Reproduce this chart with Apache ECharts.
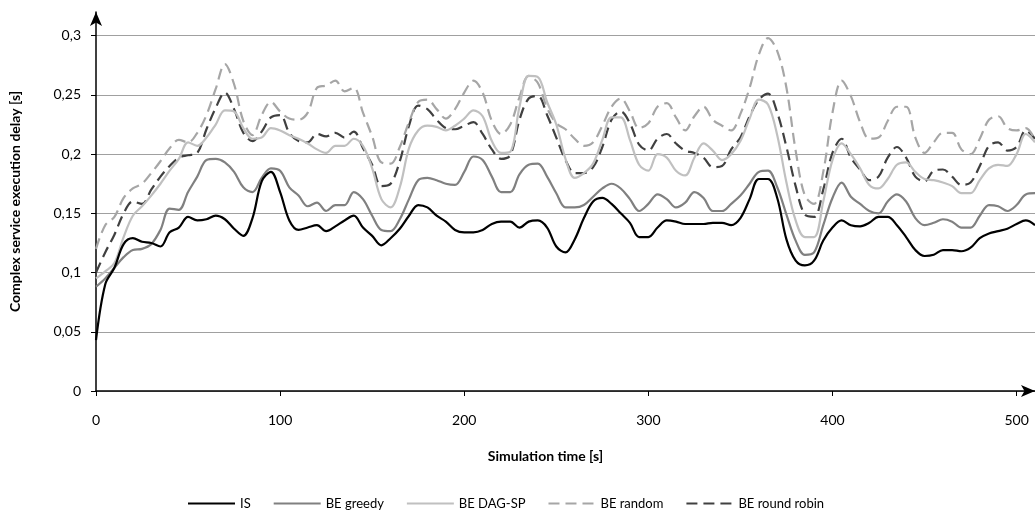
<!DOCTYPE html>
<html>
<head>
<meta charset="utf-8">
<script src="https://cdn.jsdelivr.net/npm/echarts@6.0.0/dist/echarts.min.js"></script>
<style>
  html, body { margin: 0; padding: 0; background: #fff; }
  #chart { width: 1035px; height: 512px; }
</style>
</head>
<body>
<div id="chart"></div>
<script>
// simulation time samples [s], every 5 s
var times = [];
for (var t = 0; t <= 510; t += 5) times.push(t);

var isDelay = [
	0.043, 0.09, 0.104, 0.124, 0.129, 0.126, 0.125, 0.122, 0.134, 0.138,
	0.147, 0.144, 0.145, 0.148, 0.145, 0.137, 0.131, 0.146, 0.177, 0.185,
	0.168, 0.144, 0.136, 0.138, 0.14, 0.135, 0.139, 0.144, 0.148, 0.138,
	0.131, 0.123, 0.129, 0.137, 0.148, 0.157, 0.155, 0.148, 0.143, 0.136,
	0.134, 0.134, 0.136, 0.141, 0.143, 0.143, 0.138, 0.143, 0.144, 0.138,
	0.122, 0.117, 0.128, 0.146, 0.16, 0.163, 0.158, 0.15, 0.142, 0.13,
	0.13, 0.138, 0.144, 0.143, 0.141, 0.141, 0.141, 0.142, 0.142, 0.14,
	0.146, 0.162, 0.179, 0.179, 0.163, 0.128, 0.11, 0.106, 0.11, 0.127,
	0.138, 0.144, 0.14, 0.139, 0.142, 0.147, 0.147, 0.14, 0.13, 0.119,
	0.114, 0.115, 0.119, 0.119, 0.118, 0.121, 0.129, 0.133, 0.135, 0.137,
	0.141, 0.144, 0.14
];
var greedyDelay = [
	0.088, 0.095, 0.104, 0.113, 0.119, 0.12, 0.124, 0.136, 0.154, 0.153,
	0.168, 0.181, 0.195, 0.196, 0.193, 0.185, 0.172, 0.168, 0.18, 0.188,
	0.186, 0.172, 0.165, 0.156, 0.159, 0.152, 0.157, 0.157, 0.168, 0.162,
	0.148, 0.136, 0.135, 0.145, 0.162, 0.178, 0.18, 0.178, 0.175, 0.174,
	0.185, 0.198, 0.195, 0.181, 0.168, 0.168, 0.183, 0.191, 0.192, 0.181,
	0.167, 0.155, 0.155, 0.157, 0.164, 0.171, 0.175, 0.171, 0.162, 0.152,
	0.158, 0.166, 0.162, 0.155, 0.159, 0.168, 0.163, 0.152, 0.152, 0.158,
	0.165, 0.175, 0.185, 0.186, 0.172, 0.149, 0.127, 0.115, 0.117, 0.14,
	0.163, 0.176, 0.164, 0.158, 0.152, 0.15, 0.16, 0.166, 0.16, 0.146,
	0.14, 0.142, 0.145, 0.143, 0.138, 0.138, 0.148, 0.157, 0.156, 0.152,
	0.157, 0.166, 0.167
];
var dagspDelay = [
	0.095, 0.101, 0.108, 0.13, 0.148, 0.156, 0.165, 0.175, 0.186, 0.196,
	0.21, 0.207, 0.214, 0.225, 0.237, 0.236, 0.222, 0.213, 0.214, 0.222,
	0.22, 0.216, 0.213, 0.209, 0.204, 0.201, 0.207, 0.207, 0.213, 0.207,
	0.188, 0.162, 0.155, 0.172, 0.205, 0.22, 0.224, 0.223, 0.22, 0.224,
	0.23, 0.237, 0.232, 0.211, 0.201, 0.202, 0.24, 0.266, 0.265, 0.244,
	0.225, 0.196, 0.18, 0.184, 0.192, 0.212, 0.231, 0.231, 0.212, 0.191,
	0.186, 0.2, 0.197, 0.186, 0.182, 0.197, 0.209, 0.203, 0.195, 0.2,
	0.211, 0.23, 0.246, 0.242, 0.216, 0.176, 0.144, 0.13, 0.13, 0.16,
	0.195, 0.209, 0.2, 0.188, 0.174, 0.171, 0.179, 0.191, 0.193, 0.185,
	0.179, 0.178, 0.176, 0.173, 0.167, 0.167, 0.178, 0.188, 0.191, 0.19,
	0.2, 0.217, 0.21
];
var randomDelay = [
	0.12, 0.14, 0.147, 0.163, 0.171, 0.175, 0.184, 0.194, 0.205, 0.212,
	0.21, 0.218, 0.233, 0.255, 0.276, 0.259, 0.228, 0.216, 0.233, 0.244,
	0.236, 0.23, 0.229, 0.235, 0.256, 0.258, 0.262, 0.253, 0.256, 0.235,
	0.215, 0.193, 0.192, 0.206, 0.227, 0.244, 0.246, 0.238, 0.23, 0.238,
	0.252, 0.262, 0.252, 0.228, 0.217, 0.225, 0.248, 0.266, 0.26, 0.239,
	0.226, 0.221, 0.213, 0.207, 0.21, 0.224, 0.24, 0.247, 0.236, 0.222,
	0.226, 0.24, 0.243, 0.231, 0.22, 0.232, 0.24, 0.229, 0.224, 0.22,
	0.234, 0.256, 0.284, 0.298, 0.287, 0.256, 0.203, 0.165, 0.158, 0.185,
	0.235, 0.262, 0.249, 0.227, 0.213, 0.214, 0.228, 0.24, 0.24, 0.214,
	0.201, 0.21, 0.218, 0.218, 0.204, 0.2, 0.213, 0.229, 0.232, 0.222,
	0.22, 0.222, 0.212
];
var robinDelay = [
	0.1, 0.117, 0.132, 0.15, 0.16, 0.158, 0.17, 0.181, 0.19, 0.197,
	0.199, 0.201, 0.221, 0.239, 0.252, 0.238, 0.218, 0.211, 0.219, 0.231,
	0.233, 0.218, 0.211, 0.21, 0.217, 0.215, 0.218, 0.214, 0.219, 0.205,
	0.191, 0.173, 0.175, 0.194, 0.224, 0.241, 0.238, 0.229, 0.222, 0.221,
	0.224, 0.227, 0.217, 0.204, 0.196, 0.199, 0.229, 0.247, 0.249, 0.233,
	0.214, 0.195, 0.184, 0.184, 0.189, 0.206, 0.229, 0.236, 0.226, 0.208,
	0.203, 0.213, 0.217, 0.209, 0.203, 0.201, 0.197, 0.189, 0.19, 0.204,
	0.214, 0.232, 0.246, 0.251, 0.235, 0.206, 0.173, 0.149, 0.147, 0.17,
	0.201, 0.213, 0.197, 0.187, 0.178, 0.181, 0.197, 0.206, 0.197, 0.181,
	0.177, 0.186, 0.187, 0.181, 0.174, 0.176, 0.19, 0.207, 0.21, 0.203,
	0.206, 0.22, 0.213
];

var seriesNames = ['IS', 'BE greedy', 'BE DAG-SP', 'BE random', 'BE round robin'];
var seriesColors = ['#000000', '#808080', '#c0c0c0', '#a6a6a6', '#404040'];
var seriesDashed = [false, false, false, true, true];
var seriesValues = [isDelay, greedyDelay, dagspDelay, randomDelay, robinDelay];

var pairs = function(values) {
	return times.map(function(t, i) { return [t, values[i]]; });
};

var font = 'Lato, "Open Sans", sans-serif';

var series = seriesNames.map(function(name, i) {
	return {
		name: name,
		type: 'line',
		data: pairs(seriesValues[i]),
		smooth: 0.35,
		symbol: 'none',
		lineStyle: {
			color: seriesColors[i],
			width: 2.2,
			type: seriesDashed[i] ? [11, 6] : 'solid'
		},
		itemStyle: { color: seriesColors[i] }
	};
});
// draw the light ones first so the darker lines sit on top
series.reverse();

var myChart = echarts.init(document.getElementById('chart'));
myChart.setOption({
	animation: false,
	textStyle: { fontFamily: font },
	grid: { left: 91, right: 0, top: 12, bottom: 121 },
	legend: {
		data: seriesNames,
		top: 492,
		left: 182,
		itemWidth: 47,
		itemHeight: 10,
		itemGap: 22,
		itemStyle: { opacity: 0 },
		textStyle: { fontFamily: font, fontSize: 13, color: '#000' }
	},
	xAxis: {
		type: 'value',
		min: 0,
		max: 510,
		interval: 100,
		name: 'Simulation time [s]',
		nameLocation: 'middle',
		nameGap: 58,
		nameTextStyle: { fontFamily: font, fontWeight: 'bold', fontSize: 14, color: '#000', padding: [0, 40, 0, 0] },
		axisLine: { lineStyle: { color: '#000', width: 1.5 }, symbol: ['none', 'arrow'], symbolSize: [9, 14] },
		axisTick: { length: 5, lineStyle: { color: '#000' } },
		axisLabel: { showMaxLabel: false, margin: 22, fontSize: 14, color: '#000', fontFamily: font },
		splitLine: { show: false }
	},
	yAxis: {
		type: 'value',
		min: 0,
		max: 0.32,
		interval: 0.05,
		name: 'Complex service execution delay [s]',
		nameLocation: 'middle',
		nameGap: 74,
		nameTextStyle: { fontFamily: font, fontWeight: 'bold', fontSize: 14, color: '#000' },
		axisLine: { show: true, lineStyle: { color: '#000', width: 1.5 }, symbol: ['none', 'arrow'], symbolSize: [9, 14] },
		axisTick: { show: true, length: 5, lineStyle: { color: '#000' } },
		axisLabel: {
			showMaxLabel: false,
			margin: 15,
			fontSize: 14,
			color: '#000',
			fontFamily: font,
			formatter: function(v) { return String(+v.toFixed(2)).replace('.', ','); }
		},
		splitLine: { show: true, showMaxLine: false, lineStyle: { color: '#a0a0a0', width: 1.2 } }
	},
	series: series
});
</script>
</body>
</html>
